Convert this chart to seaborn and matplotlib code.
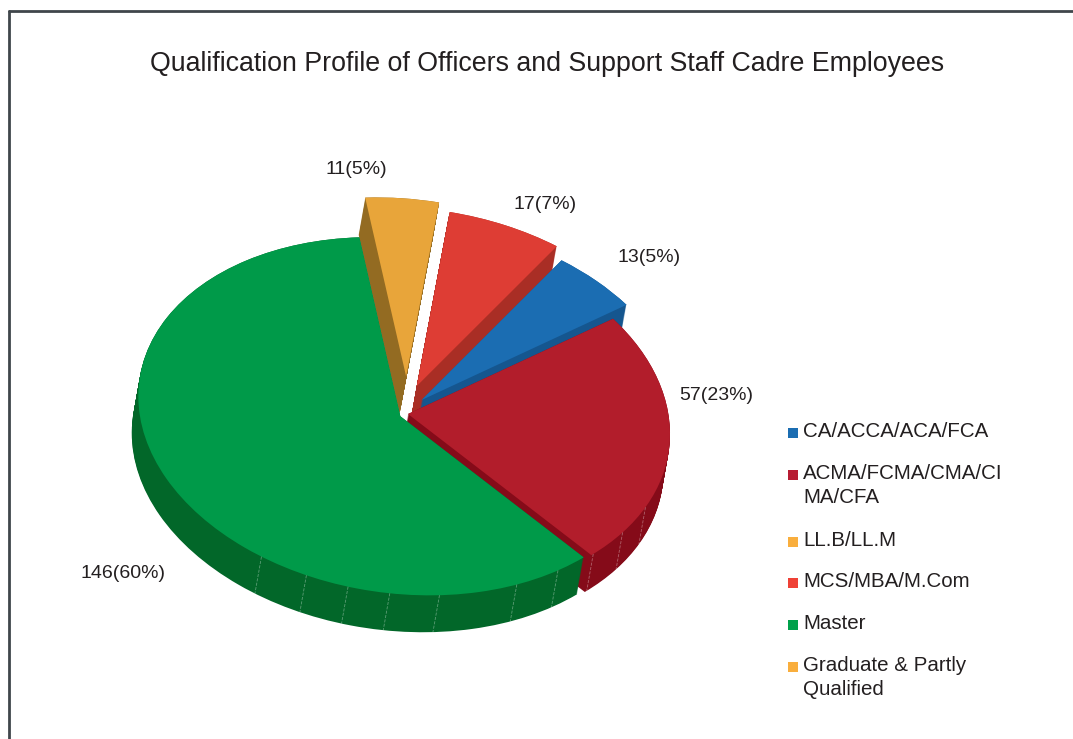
import numpy as np
import matplotlib
matplotlib.use('Agg')
import matplotlib.pyplot as plt
from matplotlib.lines import Line2D
from matplotlib.patches import Rectangle
from matplotlib.transforms import Affine2D
import seaborn as sns

W, H = 1073, 739

# slices, clockwise from the orange one
slice_values = [11, 17, 13, 57, 146]
slice_labels = ['11(5%)', '17(7%)', '13(5%)', '57(23%)', '146(60%)']
top_colors = ['#e8a53a', '#de3d34', '#1b6db2', '#b21d2b', '#009a49']
wall_colors = ['#936b22', '#a92e25', '#15568f', '#850b19', '#026729']
explode = [0.21, 0.155, 0.10, 0.0, 0.02]
# small pixel nudges per slice, the picture has some perspective a flat pie lacks
nudge_px = [(-1, 0), (-5, -3), (-4, -2), (0, 0), (-3, 1)]

legend_names = ['CA/ACCA/ACA/FCA', 'ACMA/FCMA/CMA/CI\nMA/CFA', 'LL.B/LL.M',
                'MCS/MBA/M.Com', 'Master', 'Graduate & Partly\nQualified']
legend_colors = ['#1b6db2', '#b71c32', '#f9ae3d', '#ef4136', '#00a14b', '#f9ae3d']

title = 'Qualification Profile of Officers and Support Staff Cadre Employees'

# pixel places of the free text
label_px = [(356, 169), (545, 204), (649, 258), (716, 395), (123, 574)]
legend_rows = [431, 473, 540, 581, 623, 665]
seam_angles = [238, 249, 258.5, 267.7, 278.6, 296.4, 307]
red_seam_angles = [-45, -35, -25]

sns.set_theme(style='white')
plt.rcParams['font.family'] = ['Liberation Sans', 'DejaVu Sans']
TEXT = '#231f20'

fig = plt.figure(figsize=(W / 100, H / 100), dpi=100, facecolor='white')
ax = fig.add_axes([0, 0, 1, 1])

START = 99
DEPTH = 0.21
SHIFT = 0.025
kw = dict(startangle=START, counterclock=False, explode=explode,
          wedgeprops={'linewidth': 0})

# side walls: the same pie stacked from the bottom up
for t in np.linspace(1, 0, 40):
    ax.pie(slice_values, colors=wall_colors, center=(-SHIFT * t, -DEPTH * t), **kw)

# facet seams on the outer walls
green_mid = np.radians(-153.5)
seams = [(a, explode[4] * np.cos(green_mid), explode[4] * np.sin(green_mid)) for a in seam_angles]
seams += [(a, 0.0, 0.0) for a in red_seam_angles]
for a, ox, oy in seams:
    x0 = np.cos(np.radians(a)) + ox
    y0 = np.sin(np.radians(a)) + oy
    ax.plot([x0, x0 - SHIFT], [y0, y0 - DEPTH], color='white', lw=0.6, alpha=0.35, ls='--')

ax.pie(slice_values, colors=top_colors, **kw)

# the reference ellipse is tilted: left side up, right side down
tilt = Affine2D.from_values(1, -0.112, 0, 1, 0, 0) + ax.transData
n = len(slice_values)
for i, art in enumerate(ax.patches):
    dx, dy = nudge_px[i % n]
    art.set_transform(tilt + Affine2D().translate(dx, -dy))
for i, art in enumerate(ax.lines):
    dx, dy = nudge_px[4] if i < len(seam_angles) else nudge_px[3]
    art.set_transform(tilt + Affine2D().translate(dx, -dy))

ax.set_aspect('auto')
cx, cy, rx, ry = 408, 414, 262, 178
ax.set_xlim(-cx / rx, (W - cx) / rx)
ax.set_ylim((cy - H) / ry, cy / ry)
ax.axis('off')

for lab, (px, py) in zip(slice_labels, label_px):
    fig.text(px / W, 1 - py / H, lab, ha='center', va='center', fontsize=14, color=TEXT)

fig.text(547 / W, 1 - 64 / H, title, ha='center', va='center', fontsize=19.3, color=TEXT)

# legend, swatch sits on the first text line
for name, col, row in zip(legend_names, legend_colors, legend_rows):
    fig.add_artist(Rectangle((788 / W, 1 - (row + 7) / H), 10 / W, 10 / H,
                             transform=fig.transFigure, facecolor=col, edgecolor='none'))
    fig.text(803 / W, 1 - (row - 9) / H, name, ha='left', va='top', fontsize=14.8,
             color=TEXT, linespacing=1.36)

# page frame, top and left only
frame = '#40464b'
fig.add_artist(Line2D([8.5 / W, 1], [1 - 11 / H, 1 - 11 / H], color=frame, lw=2))
fig.add_artist(Line2D([8.5 / W, 8.5 / W], [1 - 11 / H, 0], color=frame, lw=2))

fig.savefig('out.png', dpi=100)
